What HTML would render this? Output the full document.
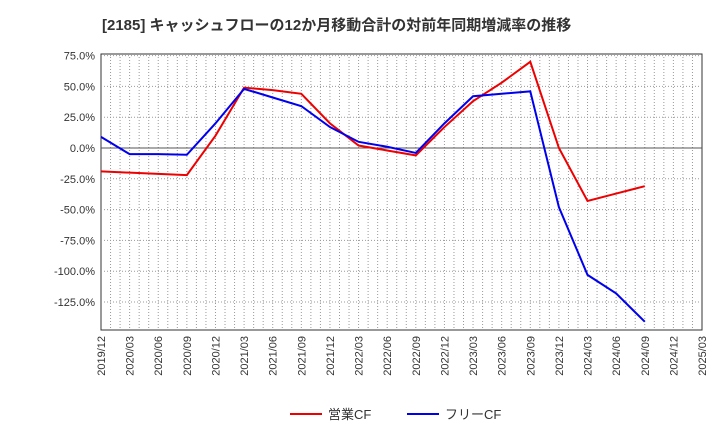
<!DOCTYPE html>
<html><head><meta charset="utf-8"><style>
body{margin:0;background:#fff;font-family:"Liberation Sans","Noto Sans CJK JP",sans-serif;}
</style></head><body>
<svg id="c" width="720" height="440" xmlns="http://www.w3.org/2000/svg">
<text x="102" y="30" font-size="15" font-weight="bold" fill="#333">[2185]  キャッシュフローの12か月移動合計の対前年同期増減率の推移</text>
<g id="grid"></g><g id="axes"></g><g id="series"></g>
<g>
<line x1="290" y1="414" x2="322" y2="414" stroke="#e00" stroke-width="2"/>
<text x="328" y="419" font-size="13" fill="#333">営業CF</text>
<line x1="407" y1="414" x2="439" y2="414" stroke="#00e" stroke-width="2"/>
<text x="445" y="419" font-size="13" fill="#333">フリーCF</text>
</g>
</svg>
<script>
const categories=["2019/12","2020/03","2020/06","2020/09","2020/12","2021/03","2021/06","2021/09","2021/12","2022/03","2022/06","2022/09","2022/12","2023/03","2023/06","2023/09","2023/12","2024/03","2024/06","2024/09","2024/12","2025/03"];
const operatingCF=[-19,-20,-21,-22,10,49,47,44,20,2,-2,-6,17,38,53,70,0,-43,-37,-31,null,null];
const freeCF=[9,-5,-5,-5.5,20,48,41,34,17,5,1,-4,20,42,44,46,-48,-103,-118,-141,null,null];
const yTicks=[75,50,25,0,-25,-50,-75,-100,-125];
const yTickLabels=["75.0%","50.0%","25.0%","0.0%","-25.0%","-50.0%","-75.0%","-100.0%","-125.0%"];
const L=101,R=702,T=54,B=330;
const yS=v=>148-(v)*30.8/25;
const xS=i=>L+i*(R-L)/(categories.length-1);
const ns="http://www.w3.org/2000/svg";
function mk(t,a,p){const e=document.createElementNS(ns,t);for(const k in a)e.setAttribute(k,a[k]);p.appendChild(e);return e;}
const g=document.getElementById('grid'),ax=document.getElementById('axes'),s=document.getElementById('series');
const bg=mk('rect',{x:L,y:T,width:R-L,height:B-T,fill:'#fff',stroke:'#333'},g);

for(let m=1;m<(categories.length-1)*3;m++){const x=xS(m/3);
 const l=mk('line',{x1:x,y1:T,x2:x,y2:B,stroke:'#999','stroke-dasharray':'1,2'},g);
 }
categories.forEach((c,i)=>{const x=xS(i);
 const t=mk('text',{x:0,y:0,'font-size':11,fill:'#333','text-anchor':'end',transform:`translate(${x+4},${B+6}) rotate(-90)`},ax);
 t.textContent=c;});
yTicks.forEach((v,i)=>{const y=yS(v);
 const l=mk('line',{x1:L,y1:y,x2:R,y2:y,stroke:v===0?'#555':'#999','stroke-dasharray':v===0?'':'1,2'},g);
 
 const t=mk('text',{x:L-6,y:y+4,'font-size':11,fill:'#333','text-anchor':'end'},ax);
 t.textContent=yTickLabels[i];});
function line(d,col,name){const pts=[];d.forEach((v,i)=>{if(v!==null)pts.push(xS(i)+','+yS(v));});
 const p=mk('polyline',{points:pts.join(' '),fill:'none',stroke:col,'stroke-width':2},s);
 }
line(operatingCF,'#e00','operating-cf-line');
line(freeCF,'#00e','free-cf-line');
</script>
</body></html>
